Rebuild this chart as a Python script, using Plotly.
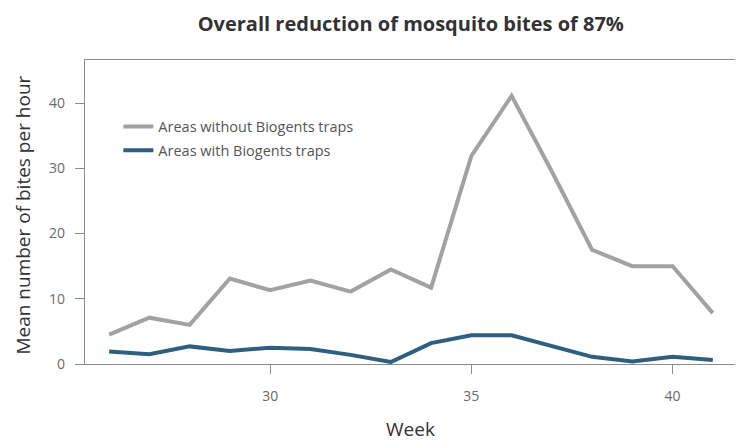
import plotly.graph_objects as go

weeks = list(range(26, 42))
without_traps = [4.5, 7.1, 6.0, 13.1, 11.3, 12.8, 11.1, 14.5, 11.7, 31.9, 41.1, 29.5, 17.5, 15.0, 15.0, 7.8]
with_traps = [1.9, 1.5, 2.7, 2.0, 2.5, 2.3, 1.4, 0.3, 3.2, 4.4, 4.4, 2.7, 1.1, 0.4, 1.1, 0.6]
x_ticks = [30, 35, 40]
y_ticks = [0, 10, 20, 30, 40]

GREY = "#a2a2a2"
BLUE = "#2f5f7f"
FONT = "Open Sans"
AXIS_COL = "#8c8c8c"

fig = go.Figure()
fig.add_trace(go.Scatter(x=weeks, y=without_traps, mode="lines", name="Areas without Biogents traps",
                         line=dict(color=GREY, width=4), legendgroup="a"))
fig.add_trace(go.Scatter(x=weeks, y=with_traps, mode="lines", name="Areas with Biogents traps",
                         line=dict(color=BLUE, width=4), legendgroup="b"))

axis_common = dict(showline=True, linecolor=AXIS_COL, linewidth=1.3, mirror=True,
                   ticks="outside", ticklen=9, tickcolor=AXIS_COL, tickwidth=1,
                   showgrid=False, zeroline=False, automargin=False,
                   tickfont=dict(family=FONT, size=14, color="#6a6a6a"))

fig.update_layout(
    width=735, height=435,
    margin=dict(l=77, r=4, t=52, b=79),
    paper_bgcolor="white", plot_bgcolor="white",
    title=dict(text="<b>Overall reduction of mosquito bites of 87%</b>",
               x=0.548, xanchor="center", y=0.963, yanchor="middle",
               font=dict(family=FONT, size=20, color="#333333")),
    xaxis=dict(range=[25.4, 41.65], tickvals=x_ticks, ticklabelstandoff=10, **axis_common),
    yaxis=dict(range=[0, 46.6], tickvals=y_ticks, ticklabelstandoff=7, **axis_common),
    legend=dict(x=0.051, y=0.834, xanchor="left", yanchor="top",
                bgcolor="rgba(0,0,0,0)", traceorder="grouped", tracegroupgap=2,
                font=dict(family=FONT, size=14.5, color="#555555")),
    showlegend=True,
    annotations=[
        dict(text="Week", xref="paper", yref="paper", x=0.498, y=-0.215,
             xanchor="center", yanchor="middle", showarrow=False,
             font=dict(family=FONT, size=19, color="#333333")),
        dict(text="Mean number of bites per hour", xref="paper", yref="paper", x=-0.094, y=0.49,
             xanchor="center", yanchor="middle", showarrow=False, textangle=-90,
             font=dict(family=FONT, size=19, color="#333333")),
    ],
)

fig.write_html("out.html")
